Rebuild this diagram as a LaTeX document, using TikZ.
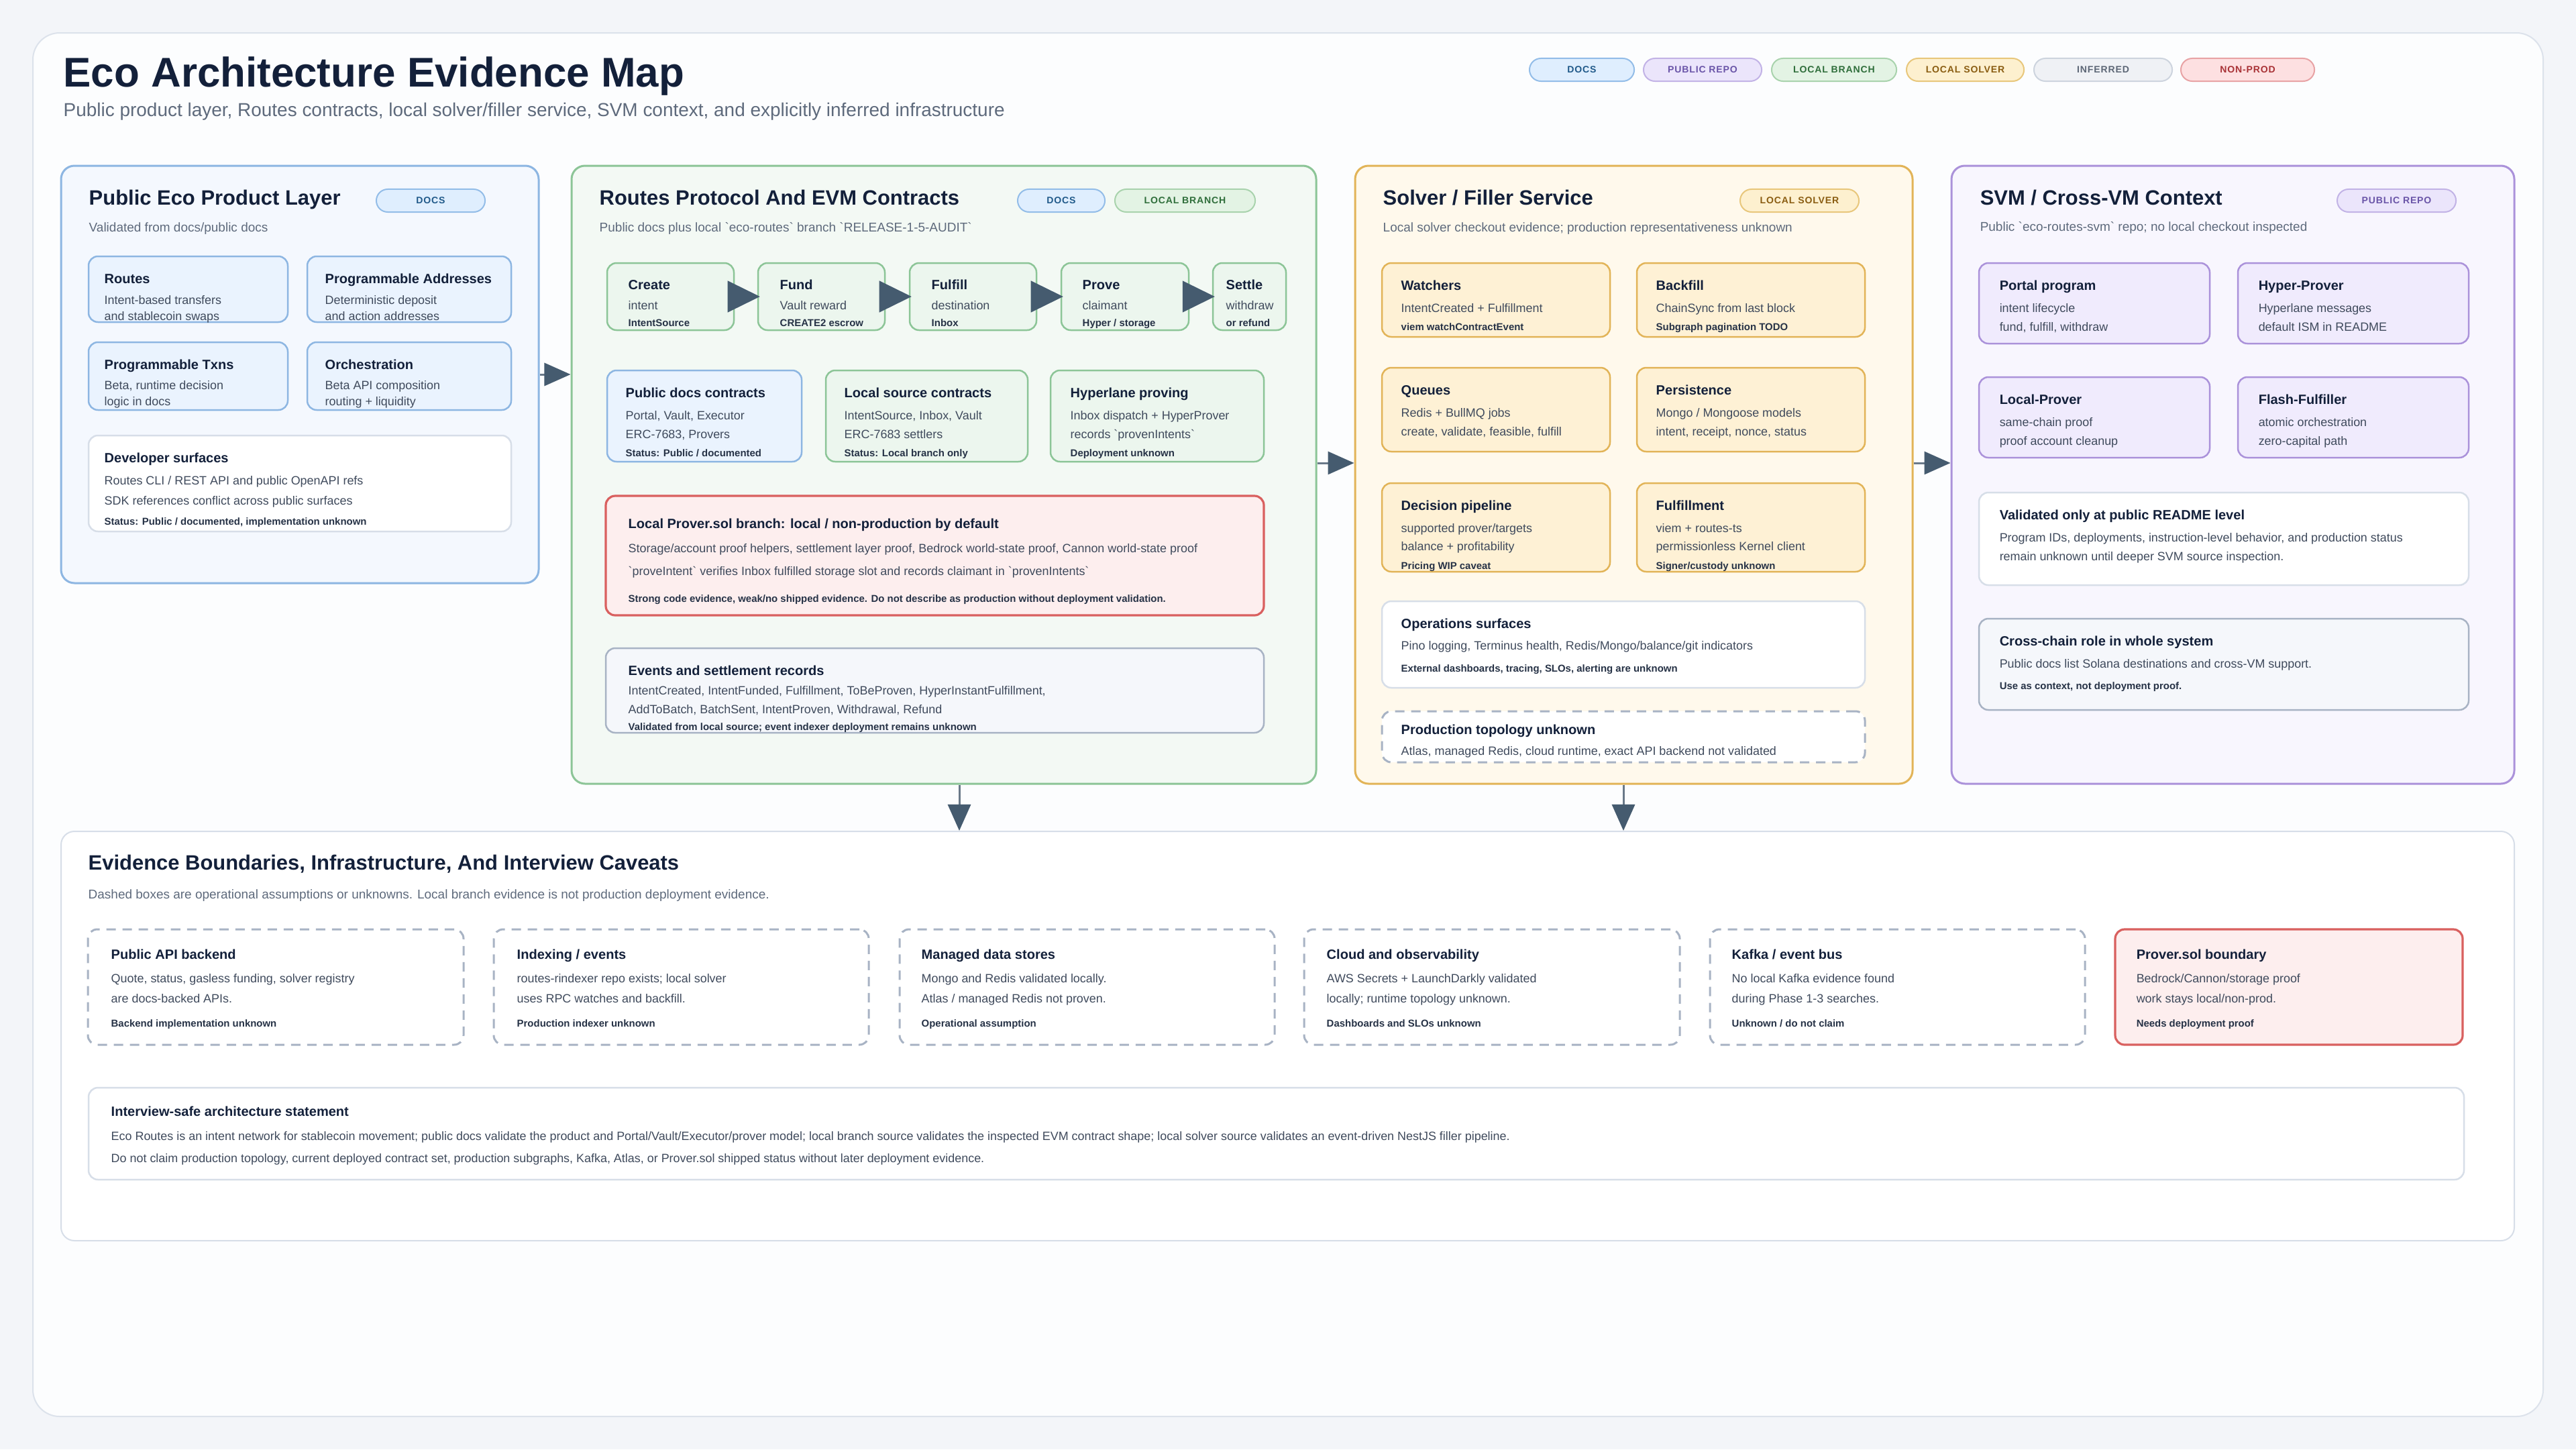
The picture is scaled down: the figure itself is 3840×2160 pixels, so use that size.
\documentclass[tikz,border=0pt]{standalone}
\usepackage{fontspec}
\setmainfont{Liberation Sans}[Ligatures=TeXOff]
\usetikzlibrary{arrows.meta,fit}

\definecolor{pagebg}{HTML}{F3F5F9}
\definecolor{cardF}{HTML}{FCFDFE}
\definecolor{cardB}{HTML}{DCE2EB}
\definecolor{ink}{HTML}{13203A}
\definecolor{subc}{HTML}{5E6A7C}
\definecolor{bodyc}{HTML}{3F4A5C}
\definecolor{notec}{HTML}{263246}
\definecolor{blueP}{HTML}{F4F8FE}
\definecolor{blueB}{HTML}{8DB6E2}
\definecolor{blueF}{HTML}{EAF3FE}
\definecolor{greenP}{HTML}{F3F9F4}
\definecolor{greenB}{HTML}{8CC597}
\definecolor{greenF}{HTML}{ECF6EE}
\definecolor{goldP}{HTML}{FFF9EC}
\definecolor{goldB}{HTML}{E2B458}
\definecolor{goldF}{HTML}{FEF1D5}
\definecolor{violP}{HTML}{F8F6FE}
\definecolor{violB}{HTML}{AB92DA}
\definecolor{violF}{HTML}{F0EBFD}
\definecolor{greyF}{HTML}{F5F7FB}
\definecolor{greyB}{HTML}{A8B3C4}
\definecolor{whiteB}{HTML}{D7DEE8}
\definecolor{redF}{HTML}{FDEEEE}
\definecolor{redB}{HTML}{D9605F}
\definecolor{linec}{HTML}{6A7989}
\definecolor{arrowc}{HTML}{455B6F}
% pills
\definecolor{docsF}{HTML}{DFEEFE}\definecolor{docsB}{HTML}{93BDE8}\definecolor{docsT}{HTML}{215A8A}
\definecolor{repoF}{HTML}{EBE5FB}\definecolor{repoB}{HTML}{C2B3E6}\definecolor{repoT}{HTML}{6A55A8}
\definecolor{brF}{HTML}{E3F3E4}\definecolor{brB}{HTML}{A9D3AD}\definecolor{brT}{HTML}{2F6E3B}
\definecolor{solF}{HTML}{FDF0CF}\definecolor{solB}{HTML}{E8C77C}\definecolor{solT}{HTML}{8A5D12}
\definecolor{infF}{HTML}{EFF1F5}\definecolor{infB}{HTML}{CDD4DE}\definecolor{infT}{HTML}{5D6776}
\definecolor{npF}{HTML}{FDE0E1}\definecolor{npB}{HTML}{E8A3A5}\definecolor{npT}{HTML}{A83236}

\newcommand\fTitle{\fontsize{17.6pt}{20pt}\selectfont\bfseries}
\newcommand\fSub{\fontsize{7.95pt}{9.5pt}\selectfont}
\newcommand\fPT{\fontsize{8.8pt}{10pt}\selectfont\bfseries}
\newcommand\fPS{\fontsize{5.4pt}{6.5pt}\selectfont}
\newcommand\fHd{\fontsize{5.7pt}{7pt}\selectfont\bfseries}
\newcommand\fBd{\fontsize{5.1pt}{6pt}\selectfont}
\newcommand\fBs{\fontsize{5.1pt}{6pt}\selectfont}
\newcommand\fNt{\fontsize{4.25pt}{5pt}\selectfont\bfseries}
\newcommand\fPill{\fontsize{4pt}{5pt}\selectfont\bfseries\addfontfeature{LetterSpace=6}}

\newcommand\tx[5]{\node[#1] (#2) at (#3,#4) {#5};}

\tikzset{
  panelbox/.style={rectangle, rounded corners=0.2cm, line width=0.03cm, inner sep=0pt},
  cardbox/.style={rectangle, rounded corners=0.14cm, line width=0.025cm, inner sep=0pt},
  bluepanel/.style={panelbox, draw=blueB, fill=blueP},
  greenpanel/.style={panelbox, draw=greenB, fill=greenP},
  goldpanel/.style={panelbox, draw=goldB, fill=goldP},
  violpanel/.style={panelbox, draw=violB, fill=violP},
  bluecard/.style={cardbox, draw=blueB, fill=blueF},
  greencard/.style={cardbox, draw=greenB, fill=greenF},
  goldcard/.style={cardbox, draw=goldB, fill=goldF},
  violcard/.style={cardbox, draw=violB, fill=violF},
  whitecard/.style={cardbox, draw=whiteB, fill=white},
  greycard/.style={cardbox, draw=greyB, fill=greyF},
  redcard/.style={cardbox, draw=redB, fill=redF, line width=0.032cm},
  dashcard/.style={cardbox, draw=greyB, fill=white, line width=0.03cm, dash pattern=on 0.14cm off 0.10cm},
  pill/.style={rectangle, rounded corners=0.17cm, minimum height=0.34cm, inner sep=0pt, line width=0.02cm, font=\fPill},
  lgpill/.style={pill, rounded corners=0.19cm, minimum height=0.38cm},
  docspill/.style={pill, fill=docsF, draw=docsB, text=docsT},
  repopill/.style={pill, fill=repoF, draw=repoB, text=repoT},
  brpill/.style={pill, fill=brF, draw=brB, text=brT},
  solpill/.style={pill, fill=solF, draw=solB, text=solT},
  infpill/.style={pill, fill=infF, draw=infB, text=infT},
  nppill/.style={pill, fill=npF, draw=npB, text=npT},
  pt/.style={anchor=mid west, inner sep=0pt, text=ink, font=\fPT},
  ps/.style={anchor=mid west, inner sep=0pt, text=subc, font=\fPS},
  hd/.style={anchor=mid west, inner sep=0pt, text=ink, font=\fHd},
  bd/.style={anchor=mid west, inner sep=0pt, text=bodyc, font=\fBd},
  bs/.style={anchor=mid west, inner sep=0pt, text=bodyc, font=\fBs},
  nt/.style={anchor=mid west, inner sep=0pt, text=notec, font=\fNt},
  connarrow/.style={draw=linec, line width=0.03cm, -{Triangle[length=0.39cm,width=0.34cm,color=arrowc]}},
  flowarrow/.style={draw=arrowc, line width=0.01cm, -{Triangle[length=0.48cm,width=0.47cm]}, shorten >=-0.04cm}
}

\begin{document}
\begin{tikzpicture}[x=0.01cm, y=-0.01cm]
\useasboundingbox (0,0) rectangle (3840,2160);
\fill[pagebg] (0,0) rectangle (3840,2160);
\node[fit={(49,49)(3791,2111)}, rectangle, rounded corners=0.4cm, draw=cardB, fill=cardF, line width=0.02cm, inner sep=0pt] (card) {};

% ---------- header ----------
\node[anchor=base west, inner sep=0pt, text=ink, font=\fTitle] (title) at (94,129) {Eco Architecture Evidence Map};
\node[anchor=base west, inner sep=0pt, text=subc, font=\fSub] (subtitle) at (94,173) {Public product layer, Routes contracts, local solver/filler service, SVM context, and explicitly inferred infrastructure};

\node[lgpill, docspill, minimum width=1.56cm] (lg1) at (2358,104) {DOCS};
\node[lgpill, repopill, minimum width=1.76cm] (lg2) at (2538,104) {PUBLIC REPO};
\node[lgpill, brpill, minimum width=1.86cm] (lg3) at (2734,104) {LOCAL BRANCH};
\node[lgpill, solpill, minimum width=1.75cm] (lg4) at (2929.5,104) {LOCAL SOLVER};
\node[lgpill, infpill, minimum width=2.06cm] (lg5) at (3135,104) {INFERRED};
\node[lgpill, nppill, minimum width=1.99cm] (lg6) at (3350.5,104) {NON-PROD};

% ---------- panels ----------
\node[bluepanel, fit={(91,247)(803,869)}] (p1) {};
\node[greenpanel, fit={(852,247)(1962,1168)}] (p2) {};
\node[goldpanel, fit={(2020,247)(2851,1168)}] (p3) {};
\node[violpanel, fit={(2909,247)(3748,1168)}] (p4) {};
\node[panelbox, draw=whiteB, fill=white, line width=0.02cm, fit={(91,1239)(3748,1849)}] (sec) {};

% ---------- panel 1 ----------
\tx{pt}{p1t}{132}{296}{Public Eco Product Layer}
\node[docspill, minimum width=1.62cm] (p1pill) at (642,299) {DOCS};
\tx{ps}{p1s}{132}{336}{Validated from docs/public docs}

\node[bluecard, fit={(132,382)(429,480)}] (routes) {};
\node[bluecard, fit={(458,382)(762,480)}] (addr) {};
\node[bluecard, fit={(132,510)(429,611)}] (txns) {};
\node[bluecard, fit={(458,510)(762,611)}] (orch) {};
\node[whitecard, fit={(132,649)(762,792)}] (dev) {};

\tx{hd}{routes1}{155}{413}{Routes}
\tx{bd}{routes2}{155}{444}{Intent-based transfers}
\tx{bd}{routes3}{155}{468}{and stablecoin swaps}
\tx{hd}{addr1}{484}{413}{Programmable Addresses}
\tx{bd}{addr2}{484}{444}{Deterministic deposit}
\tx{bd}{addr3}{484}{468}{and action addresses}
\tx{hd}{txns1}{155}{541}{Programmable Txns}
\tx{bd}{txns2}{155}{571}{Beta, runtime decision}
\tx{bd}{txns3}{155}{595}{logic in docs}
\tx{hd}{orch1}{484}{541}{Orchestration}
\tx{bd}{orch2}{484}{571}{Beta API composition}
\tx{bd}{orch3}{484}{595}{routing + liquidity}
\tx{hd}{dev1}{155}{680}{Developer surfaces}
\tx{bd}{dev2}{155}{713}{Routes CLI / REST API and public OpenAPI refs}
\tx{bd}{dev3}{155}{743}{SDK references conflict across public surfaces}
\tx{nt}{dev4}{155}{773}{Status: Public / documented, implementation unknown}

% ---------- panel 2 ----------
\tx{pt}{p2t}{893}{296}{Routes Protocol And EVM Contracts}
\node[docspill, minimum width=1.30cm] (p2pill1) at (1582,299) {DOCS};
\node[brpill, minimum width=2.09cm] (p2pill2) at (1766.5,299) {LOCAL BRANCH};
\tx{ps}{p2s}{893}{336}{Public docs plus local `eco-routes` branch `RELEASE-1-5-AUDIT`}

\node[greencard, fit={(905,392)(1094,492)}] (create) {};
\node[greencard, fit={(1130,392)(1319,492)}] (fund) {};
\node[greencard, fit={(1356,392)(1545,492)}] (fulfill) {};
\node[greencard, fit={(1582,392)(1772,492)}] (prove) {};
\node[greencard, fit={(1808,392)(1917,492)}] (settle) {};

\tx{hd}{create1}{936}{422}{Create}
\tx{bd}{create2}{936}{452}{intent}
\tx{nt}{create3}{936}{477}{IntentSource}
\tx{hd}{fund1}{1162}{422}{Fund}
\tx{bd}{fund2}{1162}{452}{Vault reward}
\tx{nt}{fund3}{1162}{477}{CREATE2 escrow}
\tx{hd}{fulfill1}{1388}{422}{Fulfill}
\tx{bd}{fulfill2}{1388}{452}{destination}
\tx{nt}{fulfill3}{1388}{477}{Inbox}
\tx{hd}{prove1}{1613}{422}{Prove}
\tx{bd}{prove2}{1613}{452}{claimant}
\tx{nt}{prove3}{1613}{477}{Hyper / storage}
\tx{hd}{settle1}{1827}{422}{Settle}
\tx{bd}{settle2}{1827}{452}{withdraw}
\tx{nt}{settle3}{1827}{477}{or refund}

\draw[flowarrow] (create.east) -- (fund.west);
\draw[flowarrow] (fund.east) -- (fulfill.west);
\draw[flowarrow] (fulfill.east) -- (prove.west);
\draw[flowarrow] (prove.east) -- (settle.west);

\node[bluecard, fit={(905,552)(1195,688)}] (pubdocs) {};
\node[greencard, fit={(1231,552)(1532,688)}] (locsrc) {};
\node[greencard, fit={(1566,552)(1884,688)}] (hyper) {};
\tx{hd}{pubdocs1}{932}{583}{Public docs contracts}
\tx{bd}{pubdocs2}{932}{616}{Portal, Vault, Executor}
\tx{bd}{pubdocs3}{932}{644}{ERC-7683, Provers}
\tx{nt}{pubdocs4}{932}{671}{Status: Public / documented}
\tx{hd}{locsrc1}{1258}{583}{Local source contracts}
\tx{bd}{locsrc2}{1258}{616}{IntentSource, Inbox, Vault}
\tx{bd}{locsrc3}{1258}{644}{ERC-7683 settlers}
\tx{nt}{locsrc4}{1258}{671}{Status: Local branch only}
\tx{hd}{hyper1}{1595}{583}{Hyperlane proving}
\tx{bd}{hyper2}{1595}{616}{Inbox dispatch + HyperProver}
\tx{bd}{hyper3}{1595}{644}{records `provenIntents`}
\tx{nt}{hyper4}{1595}{671}{Deployment unknown}

\node[redcard, fit={(903,739)(1884,917)}] (lprover) {};
\tx{hd}{lprover1}{936}{778}{Local Prover.sol branch: local / non-production by default}
\tx{bd}{lprover2}{936}{814}{Storage/account proof helpers, settlement layer proof, Bedrock world-state proof, Cannon world-state proof}
\tx{bd}{lprover3}{936}{848}{`proveIntent` verifies Inbox fulfilled storage slot and records claimant in `provenIntents`}
\tx{nt}{lprover4}{936}{888}{Strong code evidence, weak/no shipped evidence. Do not describe as production without deployment validation.}

\node[greycard, fit={(903,966)(1884,1092)}] (events) {};
\tx{hd}{events1}{936}{997}{Events and settlement records}
\tx{bd}{events2}{936}{1026}{IntentCreated, IntentFunded, Fulfillment, ToBeProven, HyperInstantFulfillment,}
\tx{bd}{events3}{936}{1054}{AddToBatch, BatchSent, IntentProven, Withdrawal, Refund}
\tx{nt}{events4}{936}{1079}{Validated from local source; event indexer deployment remains unknown}

% ---------- panel 3 ----------
\tx{pt}{p3t}{2061}{296}{Solver / Filler Service}
\node[solpill, minimum width=1.77cm] (p3pill) at (2682.5,299) {LOCAL SOLVER};
\tx{ps}{p3s}{2061}{336}{Local solver checkout evidence; production representativeness unknown}

\node[goldcard, fit={(2060,392)(2400,502)}] (watch) {};
\node[goldcard, fit={(2440,392)(2780,502)}] (backfill) {};
\node[goldcard, fit={(2060,548)(2400,673)}] (queues) {};
\node[goldcard, fit={(2440,548)(2780,673)}] (persist) {};
\node[goldcard, fit={(2060,720)(2400,852)}] (decide) {};
\node[goldcard, fit={(2440,720)(2780,852)}] (fulfilment) {};
\node[whitecard, fit={(2060,896)(2780,1025)}] (ops) {};
\node[dashcard, fit={(2060,1060)(2780,1136)}] (prodtopo) {};

\tx{hd}{watch1}{2088}{423}{Watchers}
\tx{bd}{watch2}{2088}{456}{IntentCreated + Fulfillment}
\tx{nt}{watch3}{2088}{483}{viem watchContractEvent}
\tx{hd}{backfill1}{2468}{423}{Backfill}
\tx{bd}{backfill2}{2468}{456}{ChainSync from last block}
\tx{nt}{backfill3}{2468}{483}{Subgraph pagination TODO}
\tx{hd}{queues1}{2088}{579}{Queues}
\tx{bd}{queues2}{2088}{612}{Redis + BullMQ jobs}
\tx{bd}{queues3}{2088}{640}{create, validate, feasible, fulfill}
\tx{hd}{persist1}{2468}{579}{Persistence}
\tx{bd}{persist2}{2468}{612}{Mongo / Mongoose models}
\tx{bd}{persist3}{2468}{640}{intent, receipt, nonce, status}
\tx{hd}{decide1}{2088}{751}{Decision pipeline}
\tx{bd}{decide2}{2088}{784}{supported prover/targets}
\tx{bd}{decide3}{2088}{811}{balance + profitability}
\tx{nt}{decide4}{2088}{839}{Pricing WIP caveat}
\tx{hd}{fulfilment1}{2468}{751}{Fulfillment}
\tx{bd}{fulfilment2}{2468}{784}{viem + routes-ts}
\tx{bd}{fulfilment3}{2468}{811}{permissionless Kernel client}
\tx{nt}{fulfilment4}{2468}{839}{Signer/custody unknown}
\tx{hd}{ops1}{2088}{927}{Operations surfaces}
\tx{bd}{ops2}{2088}{959}{Pino logging, Terminus health, Redis/Mongo/balance/git indicators}
\tx{nt}{ops3}{2088}{992}{External dashboards, tracing, SLOs, alerting are unknown}
\tx{hd}{prodtopo1}{2088}{1085}{Production topology unknown}
\tx{bd}{prodtopo2}{2088}{1116}{Atlas, managed Redis, cloud runtime, exact API backend not validated}

% ---------- panel 4 ----------
\tx{pt}{p4t}{2951}{296}{SVM / Cross-VM Context}
\node[repopill, minimum width=1.77cm] (p4pill) at (3572.5,299) {PUBLIC REPO};
\tx{ps}{p4s}{2951}{335}{Public `eco-routes-svm` repo; no local checkout inspected}

\node[violcard, fit={(2950,392)(3294,512)}] (portal) {};
\node[violcard, fit={(3336,392)(3680,512)}] (hyperp) {};
\node[violcard, fit={(2950,562)(3294,682)}] (localp) {};
\node[violcard, fit={(3336,562)(3680,682)}] (flash) {};
\node[whitecard, fit={(2950,734)(3680,872)}] (readme) {};
\node[greycard, fit={(2950,922)(3680,1058)}] (xchain) {};

\tx{hd}{portal1}{2980}{423}{Portal program}
\tx{bd}{portal2}{2980}{456}{intent lifecycle}
\tx{bd}{portal3}{2980}{484}{fund, fulfill, withdraw}
\tx{hd}{hyperp1}{3366}{423}{Hyper-Prover}
\tx{bd}{hyperp2}{3366}{456}{Hyperlane messages}
\tx{bd}{hyperp3}{3366}{484}{default ISM in README}
\tx{hd}{localp1}{2980}{593}{Local-Prover}
\tx{bd}{localp2}{2980}{626}{same-chain proof}
\tx{bd}{localp3}{2980}{654}{proof account cleanup}
\tx{hd}{flash1}{3366}{593}{Flash-Fulfiller}
\tx{bd}{flash2}{3366}{626}{atomic orchestration}
\tx{bd}{flash3}{3366}{654}{zero-capital path}
\tx{hd}{readme1}{2980}{765}{Validated only at public README level}
\tx{bd}{readme2}{2980}{798}{Program IDs, deployments, instruction-level behavior, and production status}
\tx{bd}{readme3}{2980}{826}{remain unknown until deeper SVM source inspection.}
\tx{hd}{xchain1}{2980}{953}{Cross-chain role in whole system}
\tx{bd}{xchain2}{2980}{986}{Public docs list Solana destinations and cross-VM support.}
\tx{nt}{xchain3}{2980}{1018}{Use as context, not deployment proof.}

% ---------- bottom section ----------
\tx{pt}{sect}{131}{1287}{Evidence Boundaries, Infrastructure, And Interview Caveats}
\tx{ps}{secs}{131}{1330}{Dashed boxes are operational assumptions or unknowns. Local branch evidence is not production deployment evidence.}

\node[dashcard, fit={(131,1385)(691,1557)}] (b1) {};
\node[dashcard, fit={(736,1385)(1295,1557)}] (b2) {};
\node[dashcard, fit={(1341,1385)(1900,1557)}] (b3) {};
\node[dashcard, fit={(1944,1385)(2504,1557)}] (b4) {};
\node[dashcard, fit={(2549,1385)(3108,1557)}] (b5) {};
\node[redcard, fit={(3153,1385)(3671,1557)}] (b6) {};

\tx{hd}{b1a}{165}{1420}{Public API backend}
\tx{bd}{b1b}{165}{1455}{Quote, status, gasless funding, solver registry}
\tx{bd}{b1c}{165}{1485}{are docs-backed APIs.}
\tx{nt}{b1d}{165}{1521}{Backend implementation unknown}
\tx{hd}{b2a}{770}{1420}{Indexing / events}
\tx{bd}{b2b}{770}{1455}{routes-rindexer repo exists; local solver}
\tx{bd}{b2c}{770}{1485}{uses RPC watches and backfill.}
\tx{nt}{b2d}{770}{1521}{Production indexer unknown}
\tx{hd}{b3a}{1373}{1420}{Managed data stores}
\tx{bd}{b3b}{1373}{1455}{Mongo and Redis validated locally.}
\tx{bd}{b3c}{1373}{1485}{Atlas / managed Redis not proven.}
\tx{nt}{b3d}{1373}{1521}{Operational assumption}
\tx{hd}{b4a}{1977}{1420}{Cloud and observability}
\tx{bd}{b4b}{1977}{1455}{AWS Secrets + LaunchDarkly validated}
\tx{bd}{b4c}{1977}{1485}{locally; runtime topology unknown.}
\tx{nt}{b4d}{1977}{1521}{Dashboards and SLOs unknown}
\tx{hd}{b5a}{2581}{1420}{Kafka / event bus}
\tx{bd}{b5b}{2581}{1455}{No local Kafka evidence found}
\tx{bd}{b5c}{2581}{1485}{during Phase 1-3 searches.}
\tx{nt}{b5d}{2581}{1521}{Unknown / do not claim}
\tx{hd}{b6a}{3184}{1420}{Prover.sol boundary}
\tx{bd}{b6b}{3184}{1455}{Bedrock/Cannon/storage proof}
\tx{bd}{b6c}{3184}{1485}{work stays local/non-prod.}
\tx{nt}{b6d}{3184}{1521}{Needs deployment proof}

\node[whitecard, fit={(132,1621)(3673,1758)}] (stmt) {};
\tx{hd}{stmt1}{165}{1654}{Interview-safe architecture statement}
\tx{bs}{stmt2}{165}{1690}{Eco Routes is an intent network for stablecoin movement; public docs validate the product and Portal/Vault/Executor/prover model; local branch source validates the inspected EVM contract shape; local solver source validates an event-driven NestJS filler pipeline.}
\tx{bs}{stmt3}{165}{1723}{Do not claim production topology, current deployed contract set, production subgraphs, Kafka, Atlas, or Prover.sol shipped status without later deployment evidence.}

% ---------- connectors ----------
\coordinate (rowA) at (0,690);
\coordinate (colA) at (1430,0);
\coordinate (colB) at (2420,0);
\draw[connarrow] (p1.east) -- (p1.east -| p2.west);
\draw[connarrow] (p2.east |- rowA) -- (p3.west |- rowA);
\draw[connarrow] (p3.east |- rowA) -- (p4.west |- rowA);
\draw[connarrow] (p2.south -| colA) -- (sec.north -| colA);
\draw[connarrow] (p3.south -| colB) -- (sec.north -| colB);
\end{tikzpicture}
\end{document}
